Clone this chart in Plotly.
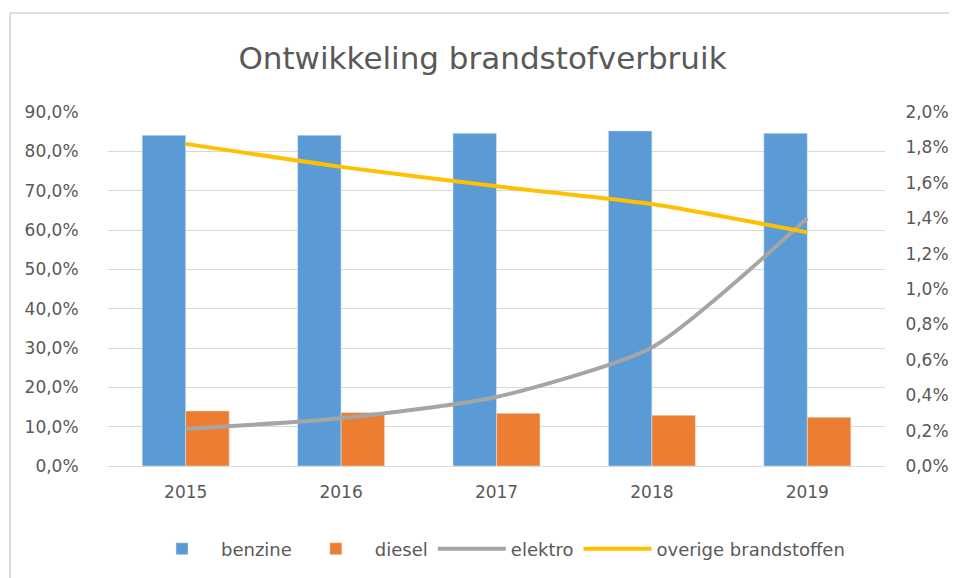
import plotly.graph_objects as go

years = ["2015", "2016", "2017", "2018", "2019"]
benzine = [0.841, 0.841, 0.846, 0.852, 0.846]
diesel = [0.140, 0.136, 0.134, 0.129, 0.124]
elektro = [0.0021, 0.0027, 0.0039, 0.0067, 0.0140]
overige = [0.0182, 0.0169, 0.0158, 0.0148, 0.0132]

font_color = "#595959"
font_family = "'DejaVu Sans', sans-serif"
clear = "rgba(0,0,0,0)"

fig = go.Figure()
fig.add_trace(go.Bar(x=years, y=benzine, name="benzine", marker_color="#5B9BD5"))
fig.add_trace(go.Bar(x=years, y=diesel, name="diesel", marker_color="#ED7D31"))
fig.add_trace(go.Scatter(x=years, y=elektro, name="elektro", mode="lines",
                         line=dict(color="#A5A5A5", width=4, shape="spline", smoothing=0.6),
                         yaxis="y2"))
fig.add_trace(go.Scatter(x=years, y=overige, name="overige brandstoffen", mode="lines",
                         line=dict(color="#FFC000", width=4, shape="spline", smoothing=0.6),
                         yaxis="y2"))

fig.update_layout(
    width=949, height=570,
    margin=dict(l=100, r=72, t=104, b=112, autoexpand=False),
    paper_bgcolor="white", plot_bgcolor="white",
    separators=",.",
    font=dict(family=font_family, color=font_color, size=17),
    title=dict(text="Ontwikkeling brandstofverbruik", x=0.5, xanchor="center",
               y=0.912, yanchor="middle",
               font=dict(size=31, color=font_color, family=font_family)),
    barmode="group", bargap=0.44, bargroupgap=0,
    xaxis=dict(showgrid=False, showline=True, linecolor="#d9d9d9", linewidth=1,
               ticks="outside", ticklen=11, tickcolor=clear,
               tickfont=dict(size=17, color=font_color)),
    yaxis=dict(range=[0, 0.9], dtick=0.1, tickformat=".1%", gridcolor="#d9d9d9",
               zeroline=False, showline=False, ticks="outside", ticklen=25, tickcolor=clear,
               tickfont=dict(size=17, color=font_color)),
    yaxis2=dict(range=[0, 0.02], dtick=0.002, tickformat=".1%", overlaying="y",
                side="right", showgrid=False, zeroline=False,
                ticks="outside", ticklen=16, tickcolor=clear,
                tickfont=dict(size=17, color=font_color)),
    legend=dict(orientation="h", x=0.5, xanchor="center", y=-0.2345, yanchor="middle",
                font=dict(size=18, color=font_color), itemwidth=68),
    shapes=[
        dict(type="line", xref="paper", yref="paper", x0=-0.126, x1=-0.126, y0=-0.4, y1=1.28,
             line=dict(color="#d4d4d4", width=1.5)),
        dict(type="line", xref="paper", yref="paper", x0=-0.126, x1=1.2, y0=1.28, y1=1.28,
             line=dict(color="#d4d4d4", width=1.5)),
    ],
)

fig.write_html("out.html")
